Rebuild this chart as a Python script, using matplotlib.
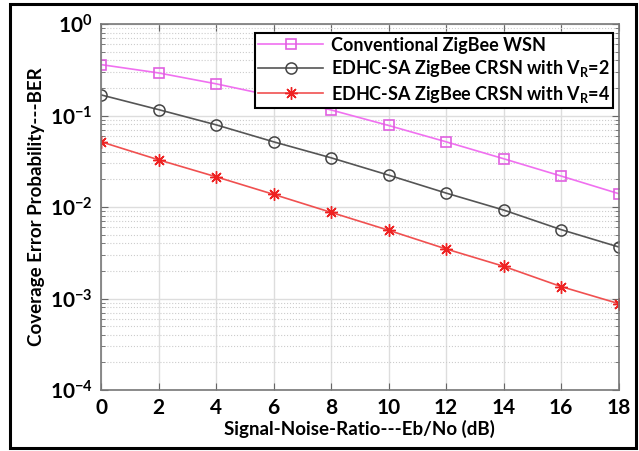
import matplotlib
matplotlib.use("Agg")
import matplotlib.pyplot as plt
from matplotlib.ticker import LogLocator, NullFormatter
from matplotlib.patches import Rectangle

snr_db = [0, 2, 4, 6, 8, 10, 12, 14, 16, 18]
ber_conventional = [0.360, 0.292, 0.222, 0.163, 0.115, 0.0778, 0.0516, 0.0337, 0.0218, 0.0140]
ber_vr2 = [0.168, 0.116, 0.0791, 0.0516, 0.0345, 0.0223, 0.0142, 0.00927, 0.00566, 0.00366]
ber_vr4 = [0.0516, 0.0328, 0.0214, 0.01375, 0.00874, 0.00557, 0.00348, 0.00225, 0.00135, 0.00088]
labels = ["Conventional ZigBee WSN",
          r"EDHC-SA ZigBee CRSN with V$_\mathregular{R}$=2",
          r"EDHC-SA ZigBee CRSN with V$_\mathregular{R}$=4"]
x_ticks = [0, 2, 4, 6, 8, 10, 12, 14, 16, 18]

plt.rcParams['font.family'] = ['Lato', 'DejaVu Sans']
plt.rcParams['font.weight'] = 'bold'
plt.rcParams['mathtext.fontset'] = 'custom'
plt.rcParams['mathtext.rm'] = 'Lato:bold'

fig = plt.figure(figsize=(6.39, 4.51), dpi=100)
W, H = 639, 451
ax = fig.add_axes([101 / W, 1 - 390 / H, (618.6 - 101) / W, (390 - 24) / H])

ax.plot(snr_db, ber_conventional, color='#f070f0', lw=1.2, marker='s', ms=7,
        mfc='none', mec='#e060e0', mew=1.2, label=labels[0])
ax.plot(snr_db, ber_vr2, color='#555555', lw=1.2, marker='o', ms=8,
        mfc='none', mec='#444444', mew=1.1, label=labels[1])
ax.plot(snr_db, ber_vr4, color='#f05050', lw=1.2, marker=(8, 2, 0), ms=9,
        mfc='none', mec='#ee2222', mew=1.0, label=labels[2])

ax.set_yscale('log')
ax.set_xlim(0, 18)
ax.set_ylim(1e-4, 1)
ax.set_xticks(x_ticks)
ax.set_xticklabels([str(t) for t in x_ticks])
ax.yaxis.set_major_locator(LogLocator(base=10, numticks=10))
ax.yaxis.set_minor_locator(LogLocator(base=10, subs=range(2, 10), numticks=20))
ax.yaxis.set_minor_formatter(NullFormatter())

ax.grid(True, which='major', color='#dddddd', lw=1.0, ls='-')
ax.grid(True, which='minor', axis='y', color='#cccccc', lw=0.8, ls=':')
ax.tick_params(which='both', direction='in', top=True, right=True, labelsize=15, pad=6)
ax.tick_params(which='major', length=5, color='#666666')
ax.tick_params(which='minor', length=3, color='#666666')
for s in ax.spines.values():
    s.set_color('#777777')
    s.set_linewidth(1.2)
for lab in ax.get_xticklabels() + ax.get_yticklabels():
    lab.set_fontweight('bold')

ax.set_xlabel('Signal-Noise-Ratio---Eb/No (dB)', fontsize=13.5, fontweight='bold', labelpad=1)
ax.set_ylabel('Coverage Error Probability---BER', fontsize=13.5, fontweight='bold', labelpad=3)

leg = ax.legend(loc='upper right', bbox_to_anchor=(0.99, 0.975), fontsize=13,
                frameon=True, fancybox=False, edgecolor='black', framealpha=1,
                handlelength=3.6, borderpad=0.2, labelspacing=0.25, handletextpad=0.4,
                borderaxespad=0)
leg.get_frame().set_linewidth(1.5)
for t in leg.get_texts():
    t.set_fontweight('bold')

fig.patches.append(Rectangle((10 / W, 3 / H), (636 - 10) / W, (447 - 3) / H,
                             transform=fig.transFigure, fill=False,
                             edgecolor='black', lw=2.2))

fig.savefig('out.png', dpi=100)
